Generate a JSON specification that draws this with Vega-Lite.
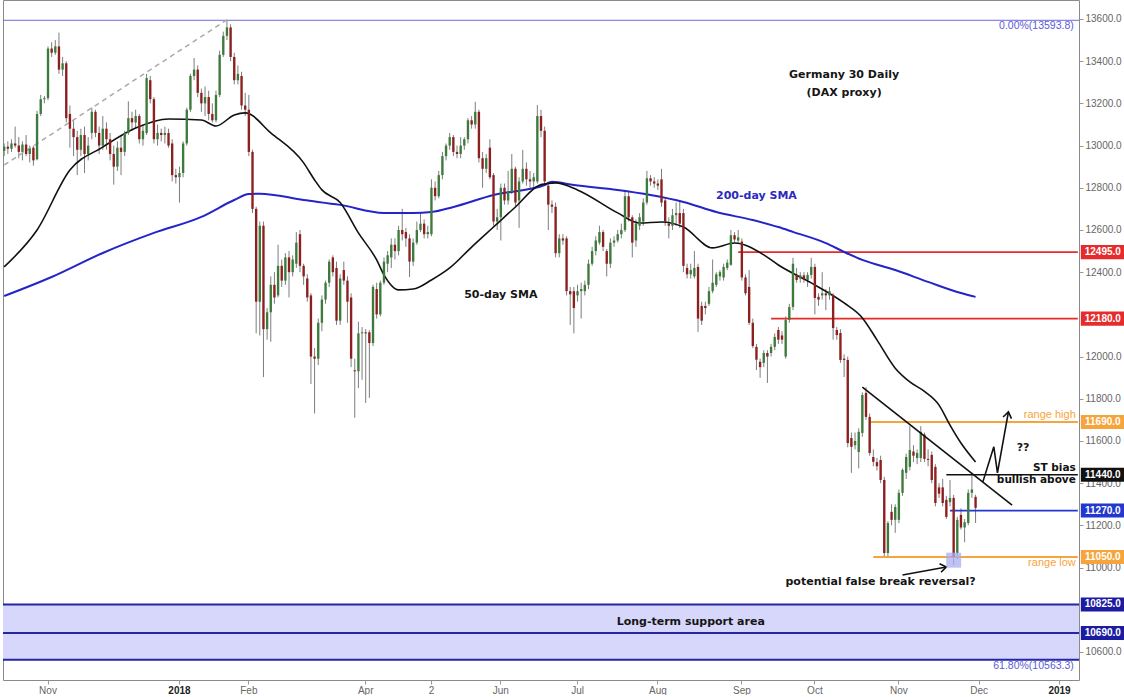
{
"$schema":"https://vega.github.io/schema/vega-lite/v6.json",
"width":1076,"height":680,"padding":0,"autosize":{"type":"pad"},"background":"white",
"config":{"view":{"stroke":"#8a8a8a"},"font":"Liberation Sans"},
"datasets":{
"candles":[
{"d":"2017-10-16","o":12975,"h":13010,"l":12950,"c":12995},
{"d":"2017-10-17","o":12995,"h":13020,"l":12960,"c":12985},
{"d":"2017-10-18","o":12985,"h":13030,"l":12970,"c":13010},
{"d":"2017-10-19","o":13010,"h":13090,"l":12990,"c":13000},
{"d":"2017-10-20","o":13000,"h":13040,"l":12940,"c":12970},
{"d":"2017-10-23","o":12970,"h":13020,"l":12930,"c":13005},
{"d":"2017-10-24","o":13005,"h":13050,"l":12950,"c":12960},
{"d":"2017-10-25","o":12960,"h":13000,"l":12920,"c":12985},
{"d":"2017-10-26","o":12990,"h":13000,"l":12905,"c":12930},
{"d":"2017-10-27","o":12935,"h":13165,"l":12930,"c":13150},
{"d":"2017-10-30","o":13150,"h":13240,"l":13140,"c":13220},
{"d":"2017-10-31","o":13220,"h":13235,"l":13200,"c":13225},
{"d":"2017-11-01","o":13225,"h":13470,"l":13215,"c":13460},
{"d":"2017-11-02","o":13460,"h":13490,"l":13420,"c":13440},
{"d":"2017-11-03","o":13440,"h":13500,"l":13430,"c":13470},
{"d":"2017-11-06","o":13470,"h":13535,"l":13340,"c":13360},
{"d":"2017-11-07","o":13360,"h":13420,"l":13330,"c":13390},
{"d":"2017-11-08","o":13390,"h":13400,"l":13110,"c":13130},
{"d":"2017-11-09","o":13150,"h":13190,"l":12990,"c":13080},
{"d":"2017-11-10","o":13080,"h":13120,"l":12950,"c":13040},
{"d":"2017-11-13","o":13040,"h":13070,"l":12860,"c":12980},
{"d":"2017-11-14","o":12980,"h":13080,"l":12950,"c":13050},
{"d":"2017-11-15","o":13050,"h":13090,"l":12870,"c":12960},
{"d":"2017-11-16","o":12960,"h":13040,"l":12930,"c":13000},
{"d":"2017-11-17","o":13060,"h":13180,"l":13030,"c":13160},
{"d":"2017-11-20","o":13160,"h":13170,"l":13040,"c":13060},
{"d":"2017-11-21","o":13060,"h":13090,"l":12960,"c":13000},
{"d":"2017-11-22","o":13000,"h":13140,"l":12980,"c":13080},
{"d":"2017-11-23","o":13080,"h":13110,"l":12980,"c":13030},
{"d":"2017-11-24","o":13030,"h":13060,"l":12930,"c":12960},
{"d":"2017-11-27","o":12960,"h":13000,"l":12815,"c":12900},
{"d":"2017-11-28","o":12900,"h":13020,"l":12880,"c":12990},
{"d":"2017-11-29","o":12990,"h":13050,"l":12860,"c":12970},
{"d":"2017-11-30","o":12970,"h":13070,"l":12950,"c":13060},
{"d":"2017-12-01","o":13060,"h":13210,"l":13050,"c":13130},
{"d":"2017-12-04","o":13130,"h":13160,"l":13070,"c":13110},
{"d":"2017-12-05","o":13110,"h":13170,"l":13080,"c":13140},
{"d":"2017-12-06","o":13140,"h":13150,"l":13010,"c":13030},
{"d":"2017-12-07","o":13030,"h":13100,"l":13000,"c":13070},
{"d":"2017-12-08","o":13060,"h":13340,"l":13050,"c":13320},
{"d":"2017-12-11","o":13310,"h":13330,"l":13200,"c":13220},
{"d":"2017-12-12","o":13220,"h":13230,"l":13010,"c":13030},
{"d":"2017-12-13","o":13030,"h":13100,"l":13000,"c":13060},
{"d":"2017-12-14","o":13060,"h":13080,"l":13020,"c":13050},
{"d":"2017-12-15","o":13050,"h":13090,"l":13010,"c":13060},
{"d":"2017-12-18","o":13060,"h":13080,"l":12990,"c":13000},
{"d":"2017-12-19","o":13010,"h":13030,"l":12830,"c":12860},
{"d":"2017-12-20","o":12860,"h":12890,"l":12820,"c":12850},
{"d":"2018-01-02","o":12850,"h":12900,"l":12730,"c":12870},
{"d":"2018-01-03","o":12870,"h":13020,"l":12850,"c":13010},
{"d":"2018-01-04","o":13010,"h":13180,"l":13000,"c":13170},
{"d":"2018-01-05","o":13170,"h":13340,"l":13160,"c":13330},
{"d":"2018-01-08","o":13330,"h":13415,"l":13310,"c":13360},
{"d":"2018-01-09","o":13360,"h":13380,"l":13230,"c":13250},
{"d":"2018-01-10","o":13250,"h":13270,"l":13160,"c":13200},
{"d":"2018-01-11","o":13200,"h":13280,"l":13140,"c":13230},
{"d":"2018-01-12","o":13230,"h":13260,"l":13120,"c":13150},
{"d":"2018-01-15","o":13150,"h":13200,"l":13110,"c":13120},
{"d":"2018-01-16","o":13120,"h":13260,"l":13110,"c":13240},
{"d":"2018-01-17","o":13240,"h":13450,"l":13230,"c":13430},
{"d":"2018-01-18","o":13430,"h":13540,"l":13420,"c":13520},
{"d":"2018-01-19","o":13520,"h":13596,"l":13500,"c":13560},
{"d":"2018-01-22","o":13560,"h":13575,"l":13400,"c":13420},
{"d":"2018-01-23","o":13420,"h":13440,"l":13290,"c":13310},
{"d":"2018-01-24","o":13310,"h":13380,"l":13290,"c":13340},
{"d":"2018-01-25","o":13330,"h":13350,"l":13170,"c":13190},
{"d":"2018-01-26","o":13190,"h":13250,"l":13140,"c":13170},
{"d":"2018-02-01","o":13170,"h":13240,"l":12950,"c":12970},
{"d":"2018-02-02","o":12970,"h":12980,"l":12680,"c":12700},
{"d":"2018-02-05","o":12700,"h":12710,"l":12110,"c":12260},
{"d":"2018-02-06","o":12260,"h":12640,"l":12100,"c":12620},
{"d":"2018-02-07","o":12620,"h":12640,"l":11903,"c":12130},
{"d":"2018-02-08","o":12130,"h":12230,"l":12080,"c":12210},
{"d":"2018-02-09","o":12210,"h":12380,"l":12070,"c":12340},
{"d":"2018-02-12","o":12340,"h":12400,"l":12250,"c":12280},
{"d":"2018-02-14","o":12290,"h":12530,"l":12280,"c":12430},
{"d":"2018-02-16","o":12430,"h":12460,"l":12330,"c":12360},
{"d":"2018-02-19","o":12360,"h":12490,"l":12340,"c":12470},
{"d":"2018-02-21","o":12470,"h":12500,"l":12280,"c":12400},
{"d":"2018-02-23","o":12400,"h":12480,"l":12380,"c":12460},
{"d":"2018-02-26","o":12440,"h":12590,"l":12420,"c":12540},
{"d":"2018-02-28","o":12580,"h":12600,"l":12400,"c":12430},
{"d":"2018-03-01","o":12430,"h":12440,"l":12340,"c":12380},
{"d":"2018-03-02","o":12370,"h":12390,"l":12260,"c":12280},
{"d":"2018-03-05","o":12290,"h":12300,"l":11870,"c":12000},
{"d":"2018-03-06","o":12000,"h":12040,"l":11730,"c":11990},
{"d":"2018-03-08","o":11990,"h":12180,"l":11960,"c":12160},
{"d":"2018-03-09","o":12160,"h":12290,"l":12120,"c":12270},
{"d":"2018-03-12","o":12270,"h":12360,"l":12250,"c":12350},
{"d":"2018-03-14","o":12350,"h":12460,"l":12330,"c":12450},
{"d":"2018-03-16","o":12470,"h":12480,"l":12380,"c":12400},
{"d":"2018-03-19","o":12420,"h":12450,"l":12150,"c":12170},
{"d":"2018-03-20","o":12170,"h":12390,"l":12150,"c":12370},
{"d":"2018-03-22","o":12410,"h":12450,"l":12340,"c":12360},
{"d":"2018-03-23","o":12360,"h":12380,"l":12160,"c":12260},
{"d":"2018-03-26","o":12280,"h":12300,"l":11950,"c":11990},
{"d":"2018-03-27","o":11935,"h":11990,"l":11710,"c":11930},
{"d":"2018-03-28","o":11930,"h":12165,"l":11850,"c":12110},
{"d":"2018-03-29","o":12110,"h":12140,"l":11890,"c":12115},
{"d":"2018-04-03","o":12115,"h":12130,"l":11780,"c":12110},
{"d":"2018-04-04","o":12115,"h":12125,"l":11804,"c":12064},
{"d":"2018-04-05","o":12064,"h":12340,"l":12050,"c":12330},
{"d":"2018-04-06","o":12320,"h":12350,"l":12180,"c":12200},
{"d":"2018-04-09","o":12200,"h":12360,"l":12190,"c":12350},
{"d":"2018-04-11","o":12350,"h":12470,"l":12340,"c":12450},
{"d":"2018-04-12","o":12440,"h":12500,"l":12400,"c":12480},
{"d":"2018-04-13","o":12470,"h":12560,"l":12420,"c":12530},
{"d":"2018-04-16","o":12530,"h":12560,"l":12460,"c":12500},
{"d":"2018-04-17","o":12500,"h":12620,"l":12480,"c":12600},
{"d":"2018-04-18","o":12600,"h":12700,"l":12550,"c":12580},
{"d":"2018-04-19","o":12590,"h":12610,"l":12520,"c":12560},
{"d":"2018-04-20","o":12560,"h":12580,"l":12377,"c":12450},
{"d":"2018-04-23","o":12450,"h":12560,"l":12430,"c":12540},
{"d":"2018-04-25","o":12540,"h":12640,"l":12530,"c":12600},
{"d":"2018-04-26","o":12600,"h":12680,"l":12590,"c":12630},
{"d":"2018-04-27","o":12630,"h":12650,"l":12560,"c":12580},
{"d":"2018-04-30","o":12580,"h":12620,"l":12560,"c":12590},
{"d":"2018-05-02","o":12580,"h":12840,"l":12570,"c":12800},
{"d":"2018-05-03","o":12800,"h":12830,"l":12740,"c":12760},
{"d":"2018-05-04","o":12760,"h":12880,"l":12750,"c":12860},
{"d":"2018-05-07","o":12860,"h":12970,"l":12840,"c":12950},
{"d":"2018-05-08","o":12950,"h":13010,"l":12930,"c":13000},
{"d":"2018-05-09","o":13000,"h":13060,"l":12980,"c":13040},
{"d":"2018-05-11","o":13040,"h":13050,"l":12950,"c":12970},
{"d":"2018-05-14","o":12970,"h":13000,"l":12940,"c":12960},
{"d":"2018-05-15","o":12960,"h":13040,"l":12940,"c":13000},
{"d":"2018-05-16","o":13000,"h":13040,"l":12980,"c":13030},
{"d":"2018-05-17","o":13030,"h":13130,"l":13010,"c":13120},
{"d":"2018-05-18","o":13120,"h":13140,"l":13080,"c":13100},
{"d":"2018-05-22","o":13100,"h":13207,"l":13080,"c":13160},
{"d":"2018-05-23","o":13160,"h":13170,"l":12920,"c":12940},
{"d":"2018-05-24","o":12940,"h":12970,"l":12800,"c":12890},
{"d":"2018-05-25","o":12890,"h":12960,"l":12870,"c":12940},
{"d":"2018-05-28","o":12990,"h":13030,"l":12840,"c":12850},
{"d":"2018-05-29","o":12860,"h":12870,"l":12620,"c":12640},
{"d":"2018-05-30","o":12640,"h":12700,"l":12600,"c":12660},
{"d":"2018-06-01","o":12660,"h":12820,"l":12550,"c":12800},
{"d":"2018-06-04","o":12800,"h":12820,"l":12720,"c":12740},
{"d":"2018-06-05","o":12740,"h":12880,"l":12720,"c":12780},
{"d":"2018-06-06","o":12780,"h":12960,"l":12770,"c":12890},
{"d":"2018-06-07","o":12890,"h":12900,"l":12710,"c":12730},
{"d":"2018-06-08","o":12740,"h":12850,"l":12610,"c":12830},
{"d":"2018-06-11","o":12830,"h":12980,"l":12820,"c":12890},
{"d":"2018-06-12","o":12890,"h":12920,"l":12810,"c":12840},
{"d":"2018-06-13","o":12840,"h":12880,"l":12800,"c":12830},
{"d":"2018-06-14","o":12830,"h":12870,"l":12800,"c":12850},
{"d":"2018-06-15","o":12830,"h":13192,"l":12820,"c":13140},
{"d":"2018-06-18","o":13140,"h":13170,"l":13040,"c":13070},
{"d":"2018-06-19","o":13070,"h":13090,"l":12810,"c":12830},
{"d":"2018-06-20","o":12810,"h":12830,"l":12600,"c":12720},
{"d":"2018-06-21","o":12720,"h":12740,"l":12680,"c":12710},
{"d":"2018-06-22","o":12710,"h":12730,"l":12470,"c":12490},
{"d":"2018-06-25","o":12490,"h":12580,"l":12470,"c":12560},
{"d":"2018-06-26","o":12560,"h":12580,"l":12530,"c":12550},
{"d":"2018-06-27","o":12560,"h":12570,"l":12290,"c":12310},
{"d":"2018-06-28","o":12310,"h":12330,"l":12150,"c":12295},
{"d":"2018-06-29","o":12310,"h":12330,"l":12110,"c":12230},
{"d":"2018-07-02","o":12290,"h":12340,"l":12260,"c":12310},
{"d":"2018-07-03","o":12310,"h":12350,"l":12180,"c":12320},
{"d":"2018-07-04","o":12310,"h":12360,"l":12290,"c":12340},
{"d":"2018-07-05","o":12340,"h":12460,"l":12320,"c":12440},
{"d":"2018-07-06","o":12440,"h":12520,"l":12430,"c":12500},
{"d":"2018-07-09","o":12500,"h":12570,"l":12480,"c":12550},
{"d":"2018-07-10","o":12540,"h":12620,"l":12530,"c":12590},
{"d":"2018-07-11","o":12590,"h":12600,"l":12500,"c":12520},
{"d":"2018-07-12","o":12500,"h":12510,"l":12380,"c":12440},
{"d":"2018-07-13","o":12440,"h":12560,"l":12420,"c":12540},
{"d":"2018-07-16","o":12540,"h":12570,"l":12520,"c":12550},
{"d":"2018-07-17","o":12550,"h":12600,"l":12540,"c":12580},
{"d":"2018-07-18","o":12580,"h":12630,"l":12560,"c":12600},
{"d":"2018-07-19","o":12600,"h":12790,"l":12590,"c":12760},
{"d":"2018-07-20","o":12760,"h":12780,"l":12640,"c":12660},
{"d":"2018-07-23","o":12660,"h":12670,"l":12470,"c":12540},
{"d":"2018-07-24","o":12550,"h":12650,"l":12520,"c":12630},
{"d":"2018-07-25","o":12620,"h":12680,"l":12600,"c":12660},
{"d":"2018-07-26","o":12640,"h":12750,"l":12620,"c":12730},
{"d":"2018-07-27","o":12730,"h":12880,"l":12720,"c":12845},
{"d":"2018-07-30","o":12845,"h":12860,"l":12810,"c":12830},
{"d":"2018-07-31","o":12830,"h":12850,"l":12800,"c":12820},
{"d":"2018-08-01","o":12820,"h":12840,"l":12790,"c":12810},
{"d":"2018-08-02","o":12840,"h":12890,"l":12710,"c":12730},
{"d":"2018-08-03","o":12740,"h":12750,"l":12620,"c":12640},
{"d":"2018-08-06","o":12630,"h":12660,"l":12560,"c":12620},
{"d":"2018-08-07","o":12620,"h":12700,"l":12600,"c":12670},
{"d":"2018-08-08","o":12670,"h":12730,"l":12620,"c":12680},
{"d":"2018-08-09","o":12680,"h":12742,"l":12610,"c":12630},
{"d":"2018-08-10","o":12680,"h":12700,"l":12400,"c":12430},
{"d":"2018-08-13","o":12420,"h":12440,"l":12370,"c":12390},
{"d":"2018-08-14","o":12390,"h":12440,"l":12370,"c":12410},
{"d":"2018-08-15","o":12380,"h":12500,"l":12370,"c":12420},
{"d":"2018-08-16","o":12425,"h":12440,"l":12117,"c":12180},
{"d":"2018-08-17","o":12240,"h":12260,"l":12150,"c":12170},
{"d":"2018-08-20","o":12240,"h":12260,"l":12200,"c":12230},
{"d":"2018-08-21","o":12250,"h":12330,"l":12240,"c":12310},
{"d":"2018-08-22","o":12310,"h":12460,"l":12300,"c":12350},
{"d":"2018-08-23","o":12340,"h":12400,"l":12330,"c":12390},
{"d":"2018-08-24","o":12380,"h":12410,"l":12360,"c":12400},
{"d":"2018-08-27","o":12375,"h":12440,"l":12360,"c":12425},
{"d":"2018-08-28","o":12420,"h":12460,"l":12410,"c":12445},
{"d":"2018-08-29","o":12435,"h":12600,"l":12430,"c":12575},
{"d":"2018-08-30","o":12575,"h":12590,"l":12540,"c":12555},
{"d":"2018-08-31","o":12550,"h":12600,"l":12540,"c":12565},
{"d":"2018-09-03","o":12545,"h":12560,"l":12360,"c":12375},
{"d":"2018-09-04","o":12375,"h":12390,"l":12290,"c":12300},
{"d":"2018-09-05","o":12330,"h":12410,"l":12150,"c":12160},
{"d":"2018-09-06","o":12160,"h":12180,"l":12040,"c":12050},
{"d":"2018-09-07","o":12046,"h":12060,"l":11936,"c":11985},
{"d":"2018-09-10","o":11975,"h":11990,"l":11899,"c":11950},
{"d":"2018-09-11","o":11970,"h":12030,"l":11950,"c":12017},
{"d":"2018-09-12","o":12017,"h":12030,"l":11875,"c":12000},
{"d":"2018-09-13","o":12017,"h":12060,"l":12000,"c":12046},
{"d":"2018-09-14","o":12046,"h":12110,"l":12030,"c":12093},
{"d":"2018-09-17","o":12126,"h":12140,"l":12060,"c":12080},
{"d":"2018-09-18","o":12100,"h":12120,"l":12060,"c":12080},
{"d":"2018-09-19","o":12000,"h":12190,"l":11990,"c":12174},
{"d":"2018-09-20","o":12174,"h":12250,"l":12160,"c":12235},
{"d":"2018-09-21","o":12235,"h":12468,"l":12220,"c":12440},
{"d":"2018-09-24","o":12387,"h":12420,"l":12350,"c":12363},
{"d":"2018-09-25","o":12370,"h":12400,"l":12350,"c":12385},
{"d":"2018-09-26","o":12385,"h":12400,"l":12350,"c":12365},
{"d":"2018-09-27","o":12363,"h":12400,"l":12330,"c":12387},
{"d":"2018-09-28","o":12387,"h":12468,"l":12370,"c":12425},
{"d":"2018-10-01","o":12425,"h":12440,"l":12200,"c":12278},
{"d":"2018-10-02","o":12283,"h":12300,"l":12240,"c":12270},
{"d":"2018-10-03","o":12290,"h":12400,"l":12270,"c":12300},
{"d":"2018-10-04","o":12300,"h":12320,"l":12220,"c":12290},
{"d":"2018-10-05","o":12290,"h":12330,"l":12270,"c":12310},
{"d":"2018-10-08","o":12292,"h":12300,"l":12080,"c":12135},
{"d":"2018-10-09","o":12126,"h":12140,"l":12080,"c":12102},
{"d":"2018-10-10","o":12112,"h":12130,"l":11970,"c":11984},
{"d":"2018-10-11","o":11990,"h":12010,"l":11903,"c":11984},
{"d":"2018-10-12","o":11984,"h":12000,"l":11570,"c":11590},
{"d":"2018-10-15","o":11614,"h":11640,"l":11449,"c":11572},
{"d":"2018-10-16","o":11580,"h":11640,"l":11560,"c":11600},
{"d":"2018-10-17","o":11548,"h":11660,"l":11470,"c":11643},
{"d":"2018-10-18","o":11638,"h":11830,"l":11620,"c":11818},
{"d":"2018-10-19","o":11828,"h":11855,"l":11700,"c":11714},
{"d":"2018-10-22","o":11714,"h":11730,"l":11530,"c":11543},
{"d":"2018-10-23","o":11524,"h":11560,"l":11480,"c":11501},
{"d":"2018-10-24","o":11500,"h":11520,"l":11460,"c":11480},
{"d":"2018-10-25","o":11510,"h":11530,"l":11400,"c":11415},
{"d":"2018-10-26","o":11415,"h":11430,"l":11050,"c":11069},
{"d":"2018-10-29","o":11069,"h":11220,"l":11050,"c":11211},
{"d":"2018-10-30","o":11264,"h":11300,"l":11200,"c":11226},
{"d":"2018-10-31","o":11226,"h":11300,"l":11164,"c":11287},
{"d":"2018-11-01","o":11226,"h":11370,"l":11210,"c":11354},
{"d":"2018-11-02","o":11354,"h":11470,"l":11340,"c":11463},
{"d":"2018-11-05","o":11449,"h":11540,"l":11420,"c":11524},
{"d":"2018-11-06","o":11477,"h":11670,"l":11460,"c":11557},
{"d":"2018-11-07","o":11550,"h":11580,"l":11500,"c":11530},
{"d":"2018-11-08","o":11519,"h":11560,"l":11490,"c":11543},
{"d":"2018-11-09","o":11519,"h":11670,"l":11500,"c":11643},
{"d":"2018-11-12","o":11630,"h":11640,"l":11500,"c":11515},
{"d":"2018-11-13","o":11515,"h":11560,"l":11480,"c":11510},
{"d":"2018-11-14","o":11534,"h":11550,"l":11400,"c":11415},
{"d":"2018-11-15","o":11477,"h":11490,"l":11290,"c":11306},
{"d":"2018-11-16","o":11380,"h":11400,"l":11330,"c":11350},
{"d":"2018-11-19","o":11380,"h":11420,"l":11290,"c":11306},
{"d":"2018-11-20","o":11321,"h":11340,"l":11230,"c":11240},
{"d":"2018-11-21","o":11310,"h":11415,"l":11290,"c":11330},
{"d":"2018-11-22","o":11330,"h":11345,"l":11012,"c":11050},
{"d":"2018-11-23","o":11069,"h":11240,"l":11040,"c":11226},
{"d":"2018-11-26","o":11250,"h":11280,"l":11180,"c":11190},
{"d":"2018-11-27","o":11190,"h":11230,"l":11120,"c":11215},
{"d":"2018-11-28","o":11211,"h":11370,"l":11200,"c":11354},
{"d":"2018-11-29","o":11354,"h":11449,"l":11330,"c":11370},
{"d":"2018-11-30","o":11335,"h":11345,"l":11211,"c":11283}
],
"sma200":[
{"d":"2017-10-16","v":12287},{"d":"2017-11-02","v":12377},{"d":"2017-11-22","v":12491},{"d":"2017-12-12","v":12586},{"d":"2018-01-10","v":12662},{"d":"2018-01-23","v":12742},{"d":"2018-02-01","v":12770},{"d":"2018-02-06","v":12772},{"d":"2018-03-01","v":12742},{"d":"2018-03-20","v":12719},{"d":"2018-04-11","v":12681},{"d":"2018-04-23","v":12681},{"d":"2018-05-02","v":12685},{"d":"2018-05-11","v":12709},{"d":"2018-05-29","v":12766},{"d":"2018-06-19","v":12813},{"d":"2018-06-21","v":12828},{"d":"2018-06-29","v":12813},{"d":"2018-07-17","v":12790},{"d":"2018-07-30","v":12766},{"d":"2018-08-10","v":12733},{"d":"2018-08-23","v":12685},{"d":"2018-09-06","v":12647},{"d":"2018-09-17","v":12614},{"d":"2018-09-21","v":12591},{"d":"2018-10-04","v":12538},{"d":"2018-10-11","v":12496},{"d":"2018-10-18","v":12458},{"d":"2018-10-31","v":12410},{"d":"2018-11-13","v":12354},{"d":"2018-11-26","v":12301},{"d":"2018-11-30","v":12283}
],
"sma50":[
{"d":"2017-10-16","v":12425},{"d":"2017-10-27","v":12600},{"d":"2017-11-09","v":12884},{"d":"2017-11-22","v":12993},{"d":"2017-12-05","v":13083},{"d":"2017-12-18","v":13126},{"d":"2018-01-10","v":13121},{"d":"2018-01-16","v":13093},{"d":"2018-01-23","v":13145},{"d":"2018-01-26","v":13155},{"d":"2018-02-09","v":13060},{"d":"2018-03-01","v":12918},{"d":"2018-03-06","v":12837},{"d":"2018-03-09","v":12790},{"d":"2018-03-20","v":12730},{"d":"2018-03-28","v":12586},{"d":"2018-04-06","v":12458},{"d":"2018-04-11","v":12387},{"d":"2018-04-17","v":12316},{"d":"2018-04-23","v":12320},{"d":"2018-05-02","v":12363},{"d":"2018-05-09","v":12420},{"d":"2018-05-18","v":12519},{"d":"2018-05-29","v":12614},{"d":"2018-06-07","v":12709},{"d":"2018-06-18","v":12815},{"d":"2018-06-22","v":12823},{"d":"2018-07-02","v":12790},{"d":"2018-07-17","v":12681},{"d":"2018-07-25","v":12633},{"d":"2018-08-02","v":12638},{"d":"2018-08-10","v":12614},{"d":"2018-08-22","v":12515},{"d":"2018-08-30","v":12538},{"d":"2018-09-11","v":12482},{"d":"2018-09-17","v":12434},{"d":"2018-09-28","v":12349},{"d":"2018-10-11","v":12254},{"d":"2018-10-18","v":12183},{"d":"2018-10-24","v":12079},{"d":"2018-10-31","v":11945},{"d":"2018-11-06","v":11880},{"d":"2018-11-12","v":11835},{"d":"2018-11-16","v":11770},{"d":"2018-11-21","v":11675},{"d":"2018-11-26","v":11590},{"d":"2018-11-30","v":11500}
]
},
"layer":[
{"data":{"values":[{"lo":10563.3,"hi":10825}]},"mark":{"type":"rect","color":"#d7d7fb"},
 "encoding":{"y":{"field":"lo","type":"quantitative","title":null,"scale":{"domain":[10467,13690],"nice":false,"zero":false},
  "axis":{"orient":"right","title":null,"values":[10600,11000,11200,11400,11600,11800,12000,12400,12600,12800,13000,13200,13400,13600],"format":".1f","grid":false,"domain":false,"tickSize":4,"tickColor":"#999","labelFontSize":10,"labelColor":"#666","labelPadding":2,"labelFont":"Liberation Sans"}},
  "y2":{"field":"hi"}}},
{"data":{"values":[{"v":13593.8}]},"mark":{"type":"rule","color":"#6a6ad8","strokeWidth":1},"encoding":{"y":{"field":"v","type":"quantitative","title":null}}},
{"data":{"values":[{"v":10825},{"v":10690},{"v":10563.3}]},"mark":{"type":"rule","color":"#2525a5","strokeWidth":2},"encoding":{"y":{"field":"v","type":"quantitative","title":null}}},
{"data":{"name":"candles"},"mark":{"type":"rule","color":"#7d7d7d","strokeWidth":1},
 "encoding":{"x":{"field":"d","type":"ordinal","title":null,
   "scale":{"paddingInner":0.35,"paddingOuter":0,"domain":["2017-10-16","2017-10-17","2017-10-18","2017-10-19","2017-10-20","2017-10-23","2017-10-24","2017-10-25","2017-10-26","2017-10-27","2017-10-30","2017-10-31","2017-11-01","2017-11-02","2017-11-03","2017-11-06","2017-11-07","2017-11-08","2017-11-09","2017-11-10","2017-11-13","2017-11-14","2017-11-15","2017-11-16","2017-11-17","2017-11-20","2017-11-21","2017-11-22","2017-11-23","2017-11-24","2017-11-27","2017-11-28","2017-11-29","2017-11-30","2017-12-01","2017-12-04","2017-12-05","2017-12-06","2017-12-07","2017-12-08","2017-12-11","2017-12-12","2017-12-13","2017-12-14","2017-12-15","2017-12-18","2017-12-19","2017-12-20","2018-01-02","2018-01-03","2018-01-04","2018-01-05","2018-01-08","2018-01-09","2018-01-10","2018-01-11","2018-01-12","2018-01-15","2018-01-16","2018-01-17","2018-01-18","2018-01-19","2018-01-22","2018-01-23","2018-01-24","2018-01-25","2018-01-26","2018-02-01","2018-02-02","2018-02-05","2018-02-06","2018-02-07","2018-02-08","2018-02-09","2018-02-12","2018-02-14","2018-02-16","2018-02-19","2018-02-21","2018-02-23","2018-02-26","2018-02-28","2018-03-01","2018-03-02","2018-03-05","2018-03-06","2018-03-08","2018-03-09","2018-03-12","2018-03-14","2018-03-16","2018-03-19","2018-03-20","2018-03-22","2018-03-23","2018-03-26","2018-03-27","2018-03-28","2018-03-29","2018-04-03","2018-04-04","2018-04-05","2018-04-06","2018-04-09","2018-04-11","2018-04-12","2018-04-13","2018-04-16","2018-04-17","2018-04-18","2018-04-19","2018-04-20","2018-04-23","2018-04-25","2018-04-26","2018-04-27","2018-04-30","2018-05-02","2018-05-03","2018-05-04","2018-05-07","2018-05-08","2018-05-09","2018-05-11","2018-05-14","2018-05-15","2018-05-16","2018-05-17","2018-05-18","2018-05-22","2018-05-23","2018-05-24","2018-05-25","2018-05-28","2018-05-29","2018-05-30","2018-06-01","2018-06-04","2018-06-05","2018-06-06","2018-06-07","2018-06-08","2018-06-11","2018-06-12","2018-06-13","2018-06-14","2018-06-15","2018-06-18","2018-06-19","2018-06-20","2018-06-21","2018-06-22","2018-06-25","2018-06-26","2018-06-27","2018-06-28","2018-06-29","2018-07-02","2018-07-03","2018-07-04","2018-07-05","2018-07-06","2018-07-09","2018-07-10","2018-07-11","2018-07-12","2018-07-13","2018-07-16","2018-07-17","2018-07-18","2018-07-19","2018-07-20","2018-07-23","2018-07-24","2018-07-25","2018-07-26","2018-07-27","2018-07-30","2018-07-31","2018-08-01","2018-08-02","2018-08-03","2018-08-06","2018-08-07","2018-08-08","2018-08-09","2018-08-10","2018-08-13","2018-08-14","2018-08-15","2018-08-16","2018-08-17","2018-08-20","2018-08-21","2018-08-22","2018-08-23","2018-08-24","2018-08-27","2018-08-28","2018-08-29","2018-08-30","2018-08-31","2018-09-03","2018-09-04","2018-09-05","2018-09-06","2018-09-07","2018-09-10","2018-09-11","2018-09-12","2018-09-13","2018-09-14","2018-09-17","2018-09-18","2018-09-19","2018-09-20","2018-09-21","2018-09-24","2018-09-25","2018-09-26","2018-09-27","2018-09-28","2018-10-01","2018-10-02","2018-10-03","2018-10-04","2018-10-05","2018-10-08","2018-10-09","2018-10-10","2018-10-11","2018-10-12","2018-10-15","2018-10-16","2018-10-17","2018-10-18","2018-10-19","2018-10-22","2018-10-23","2018-10-24","2018-10-25","2018-10-26","2018-10-29","2018-10-30","2018-10-31","2018-11-01","2018-11-02","2018-11-05","2018-11-06","2018-11-07","2018-11-08","2018-11-09","2018-11-12","2018-11-13","2018-11-14","2018-11-15","2018-11-16","2018-11-19","2018-11-20","2018-11-21","2018-11-22","2018-11-23","2018-11-26","2018-11-27","2018-11-28","2018-11-29","2018-11-30","2018-12-03","2018-12-04","2018-12-05","2018-12-06","2018-12-07","2018-12-10","2018-12-11","2018-12-12","2018-12-13","2018-12-14","2018-12-17","2018-12-18","2018-12-19","2018-12-20","2018-12-21","2018-12-24","2018-12-25","2018-12-26","2018-12-27","2018-12-28","2018-12-31","2019-01-01","2019-01-02","2019-01-03","2019-01-04","2019-01-07","2019-01-08","2019-01-09"]},
   "axis":{"title":null,"values":["2017-11-01","2018-01-02","2018-02-01","2018-04-03","2018-05-02","2018-06-01","2018-07-02","2018-08-01","2018-09-03","2018-10-01","2018-11-01","2018-12-03","2019-01-02"],
     "labelExpr":"datum.value=='2018-01-02'?'2018':datum.value=='2019-01-02'?'2019':datum.value=='2018-05-02'?'2':['Jan','Feb','Mar','Apr','May','Jun','Jul','Aug','Sep','Oct','Nov','Dec'][toNumber(substring(datum.value,5,7))-1]",
     "labelAngle":0,"labelFontSize":10,"labelColor":{"condition":{"test":"datum.value=='2018-01-02'||datum.value=='2019-01-02'","value":"#222"},"value":"#666"},"labelFontWeight":{"condition":{"test":"datum.value=='2018-01-02'||datum.value=='2019-01-02'","value":"bold"},"value":"normal"},"labelFont":"Liberation Sans","tickColor":"#999","tickSize":4,"domain":false,"grid":false,"labelPadding":1}},
  "y":{"field":"l","type":"quantitative","title":null},"y2":{"field":"h"}}},
{"data":{"values":[{"d":"2017-10-16","v":12908},{"d":"2018-01-19","v":13596}]},"mark":{"type":"line","color":"#aaaaaa","strokeWidth":1.5,"strokeDash":[5,4]},"encoding":{"x":{"field":"d","type":"ordinal","title":null},"y":{"field":"v","type":"quantitative","title":null}}},
{"data":{"values":[{"d":"2018-08-31","e":"2019-01-09","v":12495},{"d":"2018-09-13","e":"2019-01-09","v":12180}]},"mark":{"type":"rule","color":"#e52b2b","strokeWidth":1.6},"encoding":{"x":{"field":"d","type":"ordinal","title":null},"x2":{"field":"e"},"y":{"field":"v","type":"quantitative","title":null}}},
{"data":{"values":[{"d":"2018-10-22","e":"2019-01-09","v":11690},{"d":"2018-10-23","e":"2019-01-09","v":11050}]},"mark":{"type":"rule","color":"#f6a43c","strokeWidth":2},"encoding":{"x":{"field":"d","type":"ordinal","title":null},"x2":{"field":"e"},"y":{"field":"v","type":"quantitative","title":null}}},
{"data":{"values":[{"d":"2018-11-20","e":"2019-01-09","v":11440}]},"mark":{"type":"rule","color":"#111111","strokeWidth":1.5},"encoding":{"x":{"field":"d","type":"ordinal","title":null},"x2":{"field":"e"},"y":{"field":"v","type":"quantitative","title":null}}},
{"data":{"values":[{"d":"2018-11-21","e":"2019-01-09","v":11270}]},"mark":{"type":"rule","color":"#2238d0","strokeWidth":1.6},"encoding":{"x":{"field":"d","type":"ordinal","title":null},"x2":{"field":"e"},"y":{"field":"v","type":"quantitative","title":null}}},
{"data":{"name":"sma200"},"mark":{"type":"line","color":"#2424c8","strokeWidth":2,"interpolate":"monotone"},"encoding":{"x":{"field":"d","type":"ordinal","title":null},"y":{"field":"v","type":"quantitative","title":null}}},
{"data":{"name":"sma50"},"mark":{"type":"line","color":"#111111","strokeWidth":1.6,"interpolate":"monotone"},"encoding":{"x":{"field":"d","type":"ordinal","title":null},"y":{"field":"v","type":"quantitative","title":null}}},
{"data":{"name":"candles"},"mark":{"type":"bar"},
 "encoding":{"x":{"field":"d","type":"ordinal","title":null},"y":{"field":"o","type":"quantitative","title":null},"y2":{"field":"c"},
  "color":{"condition":{"test":"datum.c>=datum.o","value":"#3d7b3d"},"value":"#8c1f1f"}}},
{"data":{"values":[{"g":"t","d":"2018-10-18","v":11855},{"g":"t","d":"2018-12-14","v":11296},{"g":"p","d":"2018-12-04","v":11406},{"g":"p","d":"2018-12-07","v":11572},{"g":"p","d":"2018-12-10","v":11449},{"g":"p","d":"2018-12-13","v":11738},{"g":"f","d":"2018-11-02","v":10965},{"g":"f","d":"2018-11-20","v":11003}]},
 "mark":{"type":"line","color":"#111111","strokeWidth":1.6},"encoding":{"x":{"field":"d","type":"ordinal","title":null},"y":{"field":"v","type":"quantitative","title":null},"detail":{"field":"g"}}},
{"data":{"values":[{"d":"2018-12-13","v":11738}]},"mark":{"type":"point","shape":"M-0.7,1L0,0L0.7,1","filled":false,"stroke":"#111111","strokeWidth":1.6,"size":150,"angle":11,"opacity":1},"encoding":{"x":{"field":"d","type":"ordinal","title":null},"y":{"field":"v","type":"quantitative","title":null}}},
{"data":{"values":[{"d":"2018-11-20","v":11003}]},"mark":{"type":"point","shape":"M-0.7,1L0,0L0.7,1","filled":false,"stroke":"#111111","strokeWidth":1.6,"size":150,"angle":80,"opacity":1},"encoding":{"x":{"field":"d","type":"ordinal","title":null},"y":{"field":"v","type":"quantitative","title":null}}},
{"data":{"values":[{"d":"2018-11-22","v":11035}]},"mark":{"type":"point","shape":"square","filled":true,"color":"#a9aef2","opacity":0.75,"size":225},"encoding":{"x":{"field":"d","type":"ordinal","title":null},"y":{"field":"v","type":"quantitative","title":null}}},
{"data":{"values":[{"d":"2018-10-11","v":13335,"t":"Germany 30 Daily"},{"d":"2018-10-11","v":13249,"t":"(DAX proxy)"},{"d":"2018-10-25","v":10932,"t":"potential false break reversal?"},{"d":"2018-08-14","v":10742,"t":"Long-term support area"},{"d":"2018-06-01","v":12292,"t":"50-day SMA"},{"d":"2018-12-19","v":11567,"t":"??"}]},
 "mark":{"type":"text","font":"DejaVu Sans","fontWeight":"bold","fontSize":11,"color":"#151515","align":"center","baseline":"middle"},
 "encoding":{"x":{"field":"d","type":"ordinal","title":null},"y":{"field":"v","type":"quantitative","title":null},"text":{"field":"t"}}},
{"data":{"values":[{"d":"2018-09-07","v":12761,"t":"200-day SMA"}]},
 "mark":{"type":"text","font":"DejaVu Sans","fontWeight":"bold","fontSize":11,"color":"#2a2ac0","align":"center","baseline":"middle"},
 "encoding":{"x":{"field":"d","type":"ordinal","title":null},"y":{"field":"v","type":"quantitative","title":null},"text":{"field":"t"}}},
{"data":{"values":[{"v":11723,"t":"range high"},{"v":11022,"t":"range low"}]},
 "mark":{"type":"text","font":"Liberation Sans","fontSize":11,"color":"#f6a43c","align":"right","baseline":"middle","dx":-2},
 "encoding":{"x":{"datum":"2019-01-09","type":"ordinal","title":null},"y":{"field":"v","type":"quantitative","title":null},"text":{"field":"t"}}},
{"data":{"values":[{"v":11472,"t":"ST bias"},{"v":11415,"t":"bullish above"}]},
 "mark":{"type":"text","font":"DejaVu Sans","fontWeight":"bold","fontSize":10.5,"color":"#111111","align":"right","baseline":"middle","dx":-2},
 "encoding":{"x":{"datum":"2019-01-09","type":"ordinal","title":null},"y":{"field":"v","type":"quantitative","title":null},"text":{"field":"t"}}},
{"data":{"values":[{"v":13565,"t":"0.00%(13593.8)"},{"v":10533,"t":"61.80%(10563.3)"}]},
 "mark":{"type":"text","font":"Liberation Sans","fontSize":10.5,"color":"#5b5bd6","align":"right","baseline":"middle","dx":-4},
 "encoding":{"x":{"datum":"2019-01-09","type":"ordinal","title":null},"y":{"field":"v","type":"quantitative","title":null},"text":{"field":"t"}}},
{"data":{"values":[{"v":12495,"k":"res","t":"12495.0"},{"v":12180,"k":"res","t":"12180.0"},{"v":11690,"k":"rng","t":"11690.0"},{"v":11440,"k":"bias","t":"11440.0"},{"v":11270,"k":"piv","t":"11270.0"},{"v":11050,"k":"rng","t":"11050.0"},{"v":10825,"k":"sup","t":"10825.0"},{"v":10690,"k":"sup","t":"10690.0"}]},
 "layer":[
  {"mark":{"type":"point","shape":"M-1,-0.32H1V0.32H-1Z","filled":true,"opacity":1,"size":1936,"xOffset":25},
   "encoding":{"x":{"datum":"2019-01-09","type":"ordinal","title":null},"y":{"field":"v","type":"quantitative","title":null},
    "color":{"field":"k","type":"nominal","legend":null,"scale":{"domain":["res","rng","bias","piv","sup"],"range":["#e52b2b","#f6a43c","#111111","#2238d0","#1c1ca0"]}}}},
  {"mark":{"type":"text","font":"Liberation Sans","fontWeight":"bold","fontSize":10,"color":"white","align":"center","baseline":"middle","xOffset":25},
   "encoding":{"x":{"datum":"2019-01-09","type":"ordinal","title":null},"y":{"field":"v","type":"quantitative","title":null},"text":{"field":"t"}}}
 ]}
]
}
